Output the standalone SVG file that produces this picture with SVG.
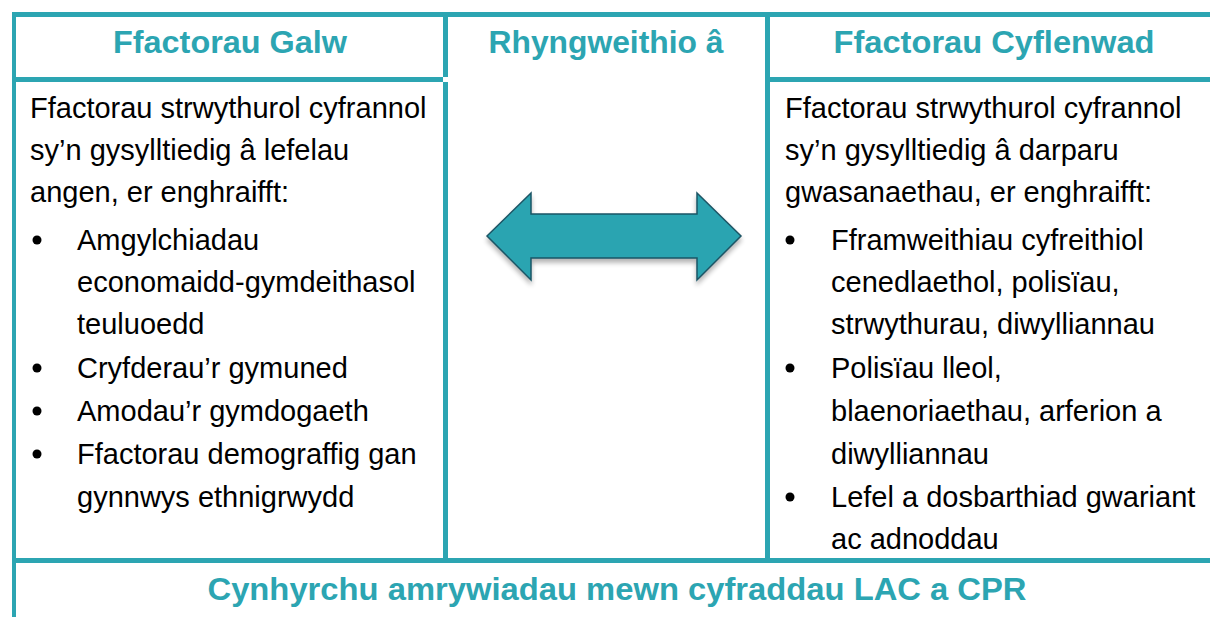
<svg xmlns="http://www.w3.org/2000/svg" width="1210" height="617" viewBox="0 0 1210 617">
<style>
.rule{fill:#2CA5B2}
.hd{font-family:"Liberation Sans",Arial,sans-serif;font-weight:bold;font-size:32px;fill:#2CA5B2;text-anchor:middle}
.bd{font-family:"Liberation Sans",Arial,sans-serif;font-size:29px;fill:#000}
.bul{fill:#000}
</style>
<defs>
<filter id="sh" x="-10%" y="-20%" width="120%" height="150%">
<feGaussianBlur in="SourceAlpha" stdDeviation="2.5"/>
<feOffset dx="0" dy="4" result="b"/>
<feComponentTransfer><feFuncA type="linear" slope="0.3"/></feComponentTransfer>
<feMerge><feMergeNode/><feMergeNode in="SourceGraphic"/></feMerge>
</filter>
</defs>
<rect width="1210" height="617" fill="#fff"/>
<g id="grid">
<rect class="rule" x="12" y="12" width="1198" height="5"/>
<rect class="rule" x="12" y="12" width="4" height="605"/>
<rect class="rule" x="12" y="77" width="431" height="5"/>
<rect class="rule" x="443" y="17" width="5" height="60"/>
<rect class="rule" x="443" y="82" width="5" height="476"/>
<rect class="rule" x="765" y="17" width="5" height="546"/>
<rect class="rule" x="770" y="77" width="440" height="5"/>
<rect class="rule" x="12" y="558" width="1198" height="5"/>
</g>
<g id="galw">
<text class="hd" x="230" y="53" textLength="234" lengthAdjust="spacingAndGlyphs">Ffactorau Galw</text>
<text class="bd" x="30" y="118">Ffactorau strwythurol cyfrannol</text>
<text class="bd" x="30" y="160">sy’n gysylltiedig â lefelau</text>
<text class="bd" x="30" y="202">angen, er enghraifft:</text>
<circle class="bul" cx="37" cy="240" r="4.5"/>
<text class="bd" x="77" y="250">Amgylchiadau</text>
<text class="bd" x="77" y="292">economaidd-gymdeithasol</text>
<text class="bd" x="77" y="334">teuluoedd</text>
<circle class="bul" cx="37" cy="368" r="4.5"/>
<text class="bd" x="77" y="378">Cryfderau’r gymuned</text>
<circle class="bul" cx="37" cy="411" r="4.5"/>
<text class="bd" x="77" y="421">Amodau’r gymdogaeth</text>
<circle class="bul" cx="37" cy="454" r="4.5"/>
<text class="bd" x="77" y="464">Ffactorau demograffig gan</text>
<text class="bd" x="77" y="507">gynnwys ethnigrwydd</text>
</g>
<g id="rhyngweithio">
<text class="hd" x="606" y="53" textLength="235" lengthAdjust="spacingAndGlyphs">Rhyngweithio â</text>
</g>
<g id="cyflenwad">
<text class="hd" x="994" y="53" textLength="321" lengthAdjust="spacingAndGlyphs">Ffactorau Cyflenwad</text>
<text class="bd" x="785" y="118">Ffactorau strwythurol cyfrannol</text>
<text class="bd" x="785" y="160">sy’n gysylltiedig â darparu</text>
<text class="bd" x="785" y="202">gwasanaethau, er enghraifft:</text>
<circle class="bul" cx="790" cy="240" r="4.5"/>
<text class="bd" x="831" y="250">Fframweithiau cyfreithiol</text>
<text class="bd" x="831" y="292">cenedlaethol, polisïau,</text>
<text class="bd" x="831" y="334">strwythurau, diwylliannau</text>
<circle class="bul" cx="790" cy="368" r="4.5"/>
<text class="bd" x="831" y="378">Polisïau lleol,</text>
<text class="bd" x="831" y="421">blaenoriaethau, arferion a</text>
<text class="bd" x="831" y="464">diwylliannau</text>
<circle class="bul" cx="790" cy="497" r="4.5"/>
<text class="bd" x="831" y="507">Lefel a dosbarthiad gwariant</text>
<text class="bd" x="831" y="549">ac adnoddau</text>
</g>
<g id="canlyniad">
<text class="hd" x="617" y="600" textLength="819" lengthAdjust="spacingAndGlyphs">Cynhyrchu amrywiadau mewn cyfraddau LAC a CPR</text>
</g>
<g id="connectors">
<path d="M487,236 L531,193 L531,214 L697,214 L697,193 L741,236 L697,280 L697,258 L531,258 L531,280 Z" fill="#2AA4B1" stroke="#1D5565" stroke-width="1.5" stroke-linejoin="miter" filter="url(#sh)"/>
</g>
</svg>
